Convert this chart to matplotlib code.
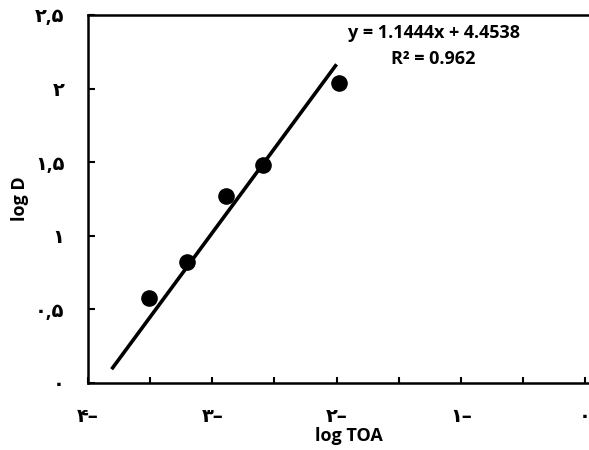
import matplotlib
matplotlib.use("Agg")
import matplotlib.pyplot as plt
import numpy as np

# -------------------------------
# Data
# -------------------------------
log_toa = [-3.51, -3.20, -2.89, -2.59, -1.98]
log_d = [0.58, 0.82, 1.27, 1.48, 2.04]

slope, intercept = 1.1444, 4.4538
r2 = 0.962
fit_x = [-3.81, -2.0]

x_ticks = [-4, -3, -2, -1, 0]
x_tick_labels = ["۴–", "۳–", "۲–", "۱–", "۰"]
y_ticks = [0, 0.5, 1, 1.5, 2, 2.5]
y_tick_labels = ["۰", "۰,۵", "۱", "۱,۵", "۲", "۲,۵"]

plt.rcParams["font.family"] = ["Open Sans", "DejaVu Sans"]
plt.rcParams["font.weight"] = "bold"

fig = plt.figure(figsize=(5.89, 4.5), dpi=100)
ax = fig.add_axes([88 / 589, 67 / 450, 522 / 589, 368 / 450])

ax.scatter(log_toa, log_d, s=120, color="black", zorder=3)
fx = np.array(fit_x)
ax.plot(fx, slope * fx + intercept, color="black", lw=2.6, solid_capstyle="butt")

ax.set_xlim(-4, 0.2)
ax.set_ylim(0, 2.5)

ax.set_xticks(x_ticks)
ax.set_xticklabels(x_tick_labels, fontsize=14, fontweight="bold")
ax.set_xticks(np.arange(-3.5, 0, 1.0), minor=True)
ax.set_yticks(y_ticks)
ax.set_yticklabels(y_tick_labels, fontsize=14, fontweight="bold")

ax.tick_params(axis="x", which="both", direction="in", length=4, width=1.5, pad=17)
ax.tick_params(axis="y", which="both", direction="in", length=5, width=1.5, pad=17)

for s in ["left", "bottom", "top"]:
    ax.spines[s].set_linewidth(1.8)
ax.spines["right"].set_visible(False)

ax.set_xlabel("log TOA", fontsize=13, fontweight="bold", labelpad=0)
ax.set_ylabel("log D", fontsize=13, fontweight="bold", labelpad=4)

ax.text(-1.22, 2.38, f"y = {slope}x + {intercept}", fontsize=13, fontweight="bold",
        ha="center", va="center")
ax.text(-1.22, 2.2, f"R² = {r2}", fontsize=13, fontweight="bold",
        ha="center", va="center")

fig.savefig("out.png", dpi=100)
